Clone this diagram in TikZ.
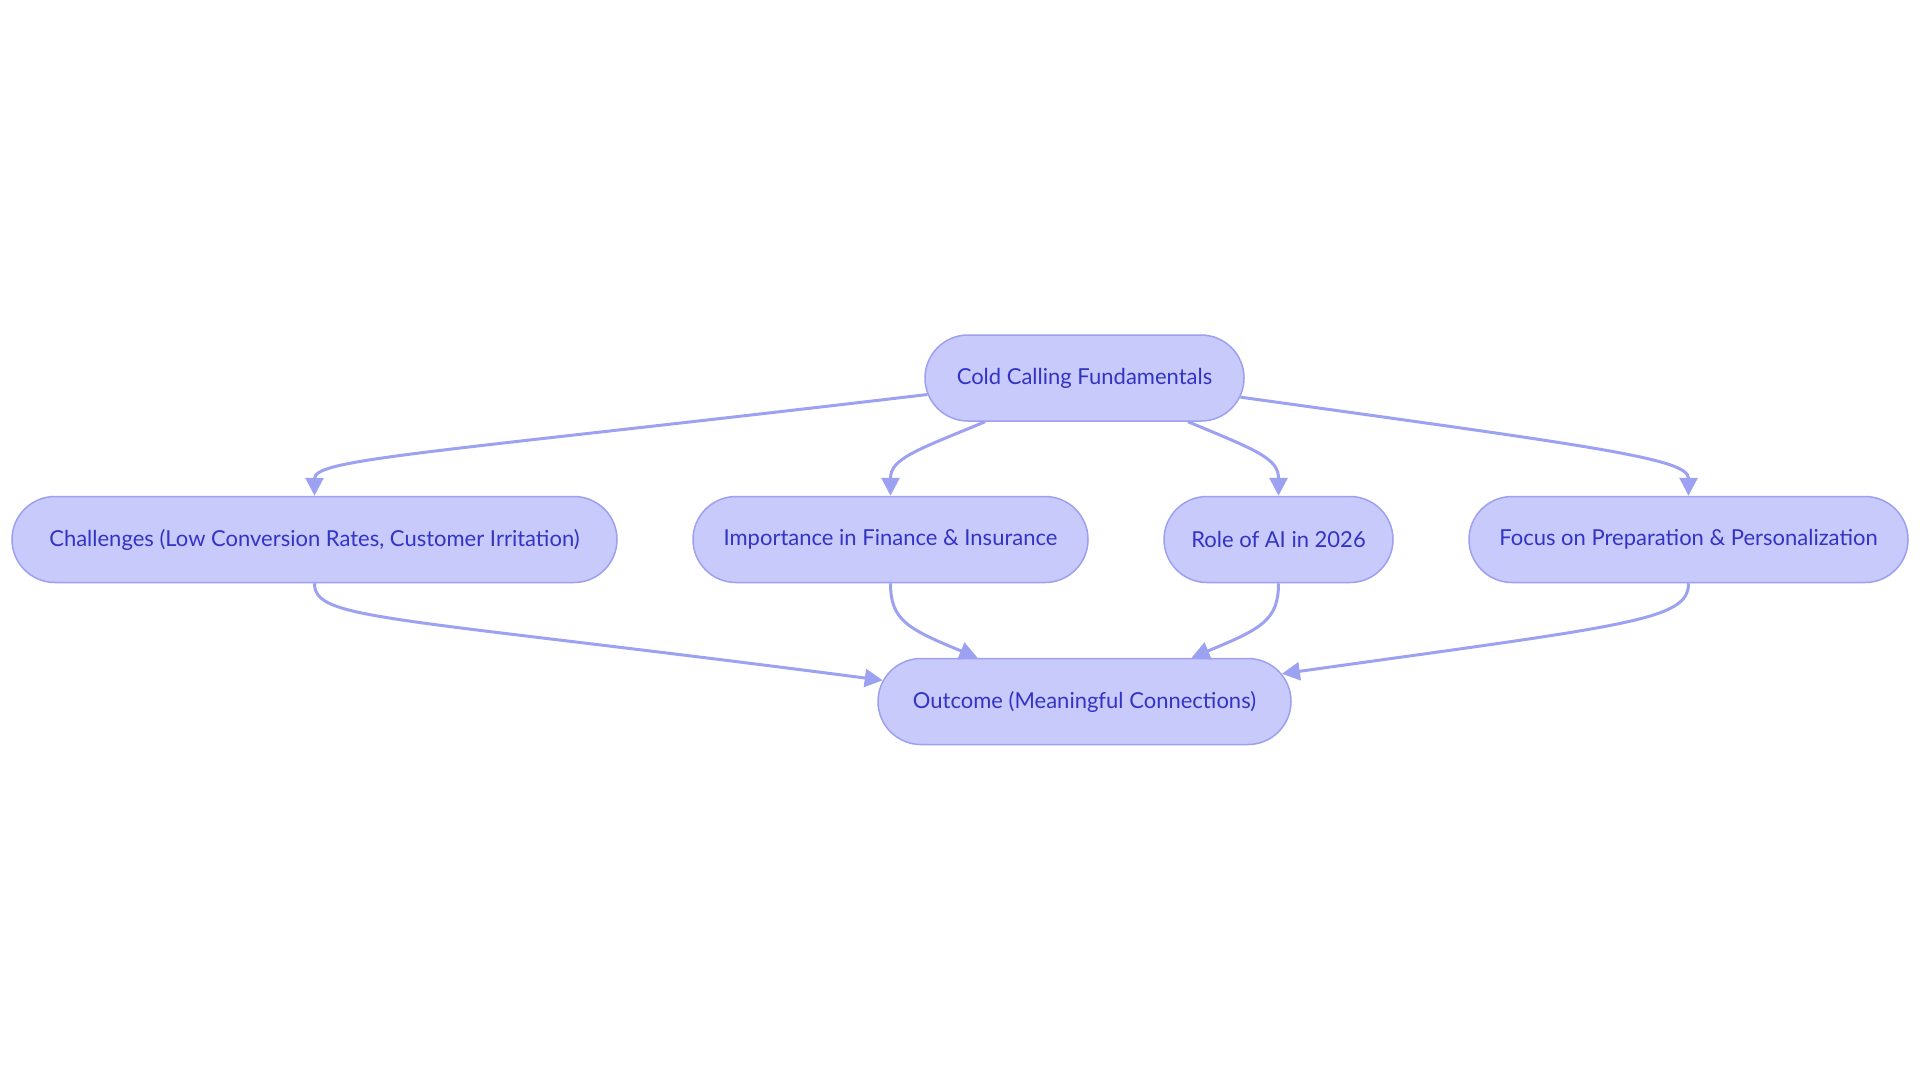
\documentclass[tikz,border=0pt]{standalone}
\usepackage{fontspec}
\setmainfont{Lato}
\usetikzlibrary{shapes.misc,arrows.meta,calc}
\definecolor{nodefill}{HTML}{C8CAFC}
\definecolor{nodedraw}{HTML}{9DA0F0}
\definecolor{nodetext}{HTML}{3333C4}
\definecolor{edgecol}{HTML}{9DA1F2}
\begin{document}
\begin{tikzpicture}[x=0.5pt,y=-0.5pt,
  box/.style={rounded rectangle, draw=nodedraw, fill=nodefill, line width=0.75pt,
    text=nodetext, font=\fontsize{11}{13}\selectfont, minimum height=43pt, inner xsep=0pt},
  edge/.style={draw=edgecol, line width=1.5pt, -{Triangle[length=9pt,width=9pt]}}]
\useasboundingbox (0,0) rectangle (1920,1083);
\node[box, minimum width=159.5pt] (cold) at (1084.5,378) {Cold Calling Fundamentals};
\node[box, minimum width=302.5pt] (chal) at (314.5,539.5) {Challenges (Low Conversion Rates, Customer Irritation)};
\node[box, minimum width=197.5pt] (imp) at (890.5,539.5) {Importance in Finance \& Insurance};
\node[box, minimum width=114.5pt] (ai) at (1278.5,539.5) {Role of AI in 2026};
\node[box, minimum width=219.5pt] (foc) at (1688.5,539.5) {Focus on Preparation \& Personalization};
\node[box, minimum width=206.5pt] (out) at (1084.5,701.5) {Outcome (Meaningful Connections)};
\draw[edge] (cold.186) .. controls +(-500,59) and +(0,-37) .. (chal.north);
\draw[edge] ($(cold.south)+(-99.5,0)$) .. controls +(-70,29) and +(0,-37) .. (imp.north);
\draw[edge] ($(cold.south)+(103.5,0)$) .. controls +(70,29) and +(0,-37) .. (ai.north);
\draw[edge] (cold.-7.5) .. controls +(360,50) and +(0,-37) .. (foc.north);
\draw[edge] (chal.south) .. controls +(0,37) and +(-500,-65) .. (out.174);
\draw[edge] (imp.south) .. controls +(0,37) and +(-70,-29) .. ($(out.north)+(-107,0)$);
\draw[edge] (ai.south) .. controls +(0,37) and +(70,-29) .. ($(out.north)+(107,0)$);
\draw[edge] (foc.south) .. controls +(0,37) and +(350,-49) .. (out.8);
\end{tikzpicture}
\end{document}
